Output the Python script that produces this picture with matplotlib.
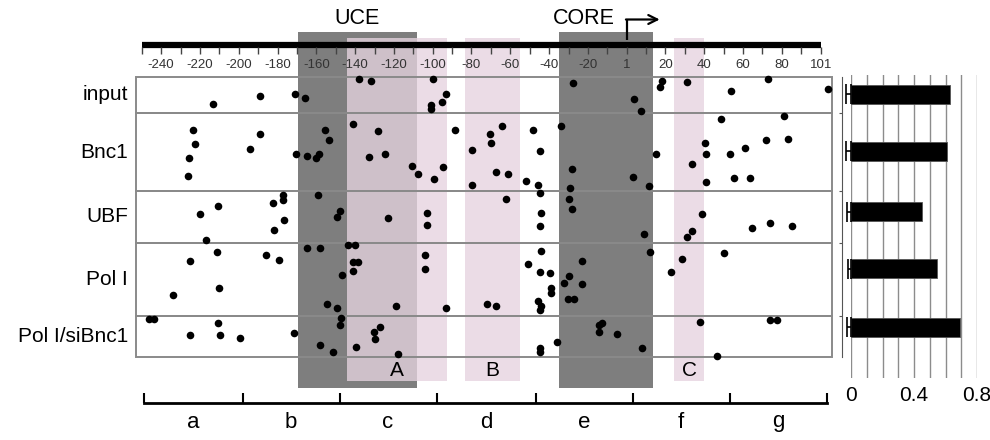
import numpy as np
import matplotlib.pyplot as plt
from matplotlib.patches import Rectangle

plt.rcParams['font.family'] = ['Liberation Sans', 'DejaVu Sans']

# ---- data -------------------------------------------------------------
rows = ['input', 'Bnc1', 'UBF', 'Pol I', 'Pol I/siBnc1']

# read positions (bp) and vertical offset inside each row (0 = top, 1 = bottom)
input_bp = [-213, -189, -171, -166, -138, -132, -100, -93, -95, -101, -101,
            -27.5, 4, 7.5, 18, 17, 31, 54, 73, 104]
input_off = [0.75, 0.53, 0.46, 0.59, 0.07, 0.13, 0.07, 0.46, 0.69, 0.76, 0.88,
             0.18, 0.62, 0.94, 0.12, 0.27, 0.14, 0.39, 0.07, 0.34]

bnc1_bp = [-223.5, -222.5, -225.5, -226, -189, -194, -170.5, -165, -160, -158.5,
           -155.5, -153.5, -141, -128, -133, -124.5, -110.5, -107.5, -94.5, -99.5,
           -88.5, -79.5, -79.5, -70.5, -70, -64.5, -48.5, -44.5, -34, -67.5,
           -61, -52, -45.5, -28, -29, 3, 11.5, 15, 48.5, 81,
           40.5, 41, 53, 61, 72, 83, 33.5, 41, 55.5, 63.5]
bnc1_off = [0.22, 0.40, 0.58, 0.81, 0.27, 0.46, 0.53, 0.55, 0.58, 0.53,
            0.22, 0.34, 0.14, 0.23, 0.56, 0.53, 0.68, 0.79, 0.69, 0.85,
            0.21, 0.47, 0.92, 0.27, 0.39, 0.16, 0.22, 0.49, 0.16, 0.76,
            0.78, 0.87, 0.93, 0.72, 0.96, 0.82, 0.94, 0.52, 0.08, 0.03,
            0.39, 0.52, 0.52, 0.45, 0.34, 0.33, 0.66, 0.89, 0.84, 0.84]

ubf_bp = [-177, -177, -159, -182.5, -210.5, -220, -176.5, -182, -148, -149.5,
          -123, -103, -103, -217, -62, -44.5, -29.5, -28, -44, -44.5,
          9, 39, 33.5, 31, 64.5, 74, 85]
ubf_off = [0.08, 0.18, 0.09, 0.24, 0.29, 0.44, 0.55, 0.75, 0.39, 0.50,
           0.51, 0.42, 0.66, 0.93, 0.16, 0.05, 0.16, 0.35, 0.42, 0.68,
           0.82, 0.44, 0.77, 0.88, 0.71, 0.61, 0.68]

poli_bp = [-211, -225, -186, -179, -165, -158, -143.5, -140, -141, -138.5,
           -141, -146.5, -210, -234, -154.5, -149.5, -119, -104, -104, -93,
           -72, -67.5, -44, -51, -44.5, -39.5, -39, -39, -45.5, -44,
           -44.5, -23, -29.5, -32.5, -23, -30.5, -27, 12, 28.5, 23, 50]
poli_off = [0.12, 0.24, 0.16, 0.23, 0.06, 0.06, 0.03, 0.03, 0.26, 0.26,
            0.38, 0.43, 0.61, 0.71, 0.83, 0.89, 0.86, 0.16, 0.35, 0.89,
            0.83, 0.86, 0.11, 0.29, 0.40, 0.41, 0.61, 0.69, 0.80, 0.86,
            0.92, 0.25, 0.45, 0.54, 0.56, 0.76, 0.76, 0.12, 0.21, 0.40, 0.14]

sibnc1_bp = [-246, -243.5, -210.5, -225, -209.5, -199.5, -171.5, -147.5, -148, -158,
             -151.5, -139.5, -130.5, -127, -129.5, -118, -14.5, -12.5, -14.5, -5,
             -36, -44.5, -44.5, 8, 38, 46.5, 74, 77.5]
sibnc1_off = [0.08, 0.08, 0.18, 0.46, 0.47, 0.53, 0.40, 0.04, 0.23, 0.70,
              0.87, 0.76, 0.39, 0.27, 0.56, 0.92, 0.22, 0.16, 0.39, 0.43,
              0.62, 0.78, 0.88, 0.77, 0.14, 0.96, 0.09, 0.09]

row_bp = [input_bp, bnc1_bp, ubf_bp, poli_bp, sibnc1_bp]
row_off = [input_off, bnc1_off, ubf_off, poli_off, sibnc1_off]

# shaded elements (bp)
boxes = {'UCE': (-169.3, -108.1), 'CORE': (-34.7, 13.4)}
sites = {'A': (-144.3, -92.5), 'B': (-83.3, -55.0), 'C': (24.4, 39.9)}

top_ticks = np.arange(-250, 101, 10)
top_labels = list(range(-240, 0, 20)) + [0, 20, 40, 60, 80, 100]
top_text = [str(v) for v in range(-240, 0, 20)] + ['1', '20', '40', '60', '80', '101']

seg_edges = [-249, -198, -148, -98, -47, 3, 53, 103]
seg_names = ['a', 'b', 'c', 'd', 'e', 'f', 'g']

occupancy = [0.63, 0.61, 0.45, 0.545, 0.69]
occ_err = [0.03, 0.03, 0.025, 0.022, 0.028]

# ---- layout -----------------------------------------------------------
W, H = 990, 440
PX0, PXPB = 141.7, 1.94          # pixel of -250 bp, pixels per bp


def to_bp(px):
    return (px - PX0) / PXPB - 250


row_edges = [76.7, 113.3, 190.7, 243.3, 316, 357.3]
box_left, box_right = to_bp(136), to_bp(832.3)

fig = plt.figure(figsize=(W / 100, H / 100), dpi=100)
ax = fig.add_axes([0, 0, 835 / W, 1])
ax.set_xlim(to_bp(0), to_bp(835))
ax.set_ylim(H, 0)
ax.axis('off')

gray = '#7e7e7e'
pink = '#e6d3df'
for name, (a, b) in boxes.items():
    ax.add_patch(Rectangle((a, 31.7), b - a, 388.3 - 31.7, fc=gray, ec='none', zorder=1))
for name, (a, b) in sites.items():
    ax.add_patch(Rectangle((a, 38.3), b - a, 380.7 - 38.3, fc=pink, ec='none',
                           alpha=0.78, zorder=2))
    ax.text((a + b) / 2, 371, name, ha='center', va='center', fontsize=15, zorder=5)

ax.text(to_bp(357), 19, 'UCE', ha='center', va='center', fontsize=15.5)
ax.text(to_bp(584), 19, 'CORE', ha='center', va='center', fontsize=15.5)
# transcription start arrow
ax.plot([0, 0], [40, 19.5], color='black', lw=1.6, solid_capstyle='butt', zorder=6)
ax.annotate('', xy=(17, 19.5), xytext=(-0.4, 19.5),
            arrowprops=dict(arrowstyle='->', lw=1.6, color='black',
                            mutation_scale=16, shrinkA=0, shrinkB=0), zorder=6)

# top ruler
ax.plot([-250, 100], [45, 45], color='black', lw=4.5, solid_capstyle='butt', zorder=6)
ax.vlines(top_ticks, 46.7, 54.3, color='#444444', lw=1.0, zorder=6)
for v, t in zip(top_labels, top_text):
    ax.text(v, 64.5, t, ha='center', va='center', fontsize=9.5, color='#333333',
            family=['Liberation Sans Narrow', 'Liberation Sans'], zorder=6)

# rows
for i, name in enumerate(rows):
    top, bot = row_edges[i], row_edges[i + 1]
    ax.add_patch(Rectangle((box_left, top), box_right - box_left, bot - top,
                           fc='none', ec='#8a8a8a', lw=1.4, zorder=3))
    ax.text(to_bp(128), (top + bot) / 2, name, ha='right', va='center', fontsize=15)
    ys = top + np.array(row_off[i]) * (bot - top)
    ax.scatter(row_bp[i], ys, s=30, color='black', linewidths=0, zorder=7)

# bottom segment ruler
ax.plot([seg_edges[0], seg_edges[-1]], [403, 403], color='black', lw=2, zorder=6)
ax.vlines(seg_edges, 393, 403, color='black', lw=1.5, zorder=6)
for a, b, s in zip(seg_edges[:-1], seg_edges[1:], seg_names):
    ax.text((a + b) / 2, 422, s, ha='center', va='center', fontsize=16)

# panel letter, cropped at the top edge as in the source figure
ax.text(to_bp(-3), 8, 'B', ha='left', va='bottom', fontsize=26, fontweight='bold')

# ---- bar panel ---------------------------------------------------------
bar_y = [94, 151, 211.5, 268.5, 327]
bx = fig.add_axes([851 / W, 1 - 378 / H, 126 / W, 303 / H])
bx.set_xlim(0, 0.8)
bx.set_ylim(378, 75)
bx.barh(bar_y, occupancy, height=19, color='black', edgecolor='#555555', lw=0.6, zorder=3)
bx.errorbar([0] * 5, bar_y, xerr=[occ_err, [0] * 5], fmt='none', ecolor='black',
            elinewidth=1.2, capsize=7, capthick=1.2, clip_on=False, zorder=4)
bx.set_xticks([0, 0.4, 0.8])
bx.set_xticklabels(['0', '0.4', '0.8'], fontsize=15)
bx.set_xticks(np.arange(0, 0.81, 0.1), minor=True)
bx.grid(True, which='both', axis='x', color='#8c8c8c', lw=1.0, zorder=0)
bx.tick_params(which='both', length=0, pad=6)
bx.set_yticks([])
for sp in bx.spines.values():
    sp.set_visible(False)
# thin bracket joining the rows to the bars
bx.plot([-0.057, -0.057], [row_edges[0], row_edges[-1]], color='#555555', lw=0.8,
        clip_on=False)
bx.hlines(row_edges[1:-1], -0.075, -0.057, color='#555555', lw=0.8, clip_on=False)

fig.savefig('out.png', dpi=100)
